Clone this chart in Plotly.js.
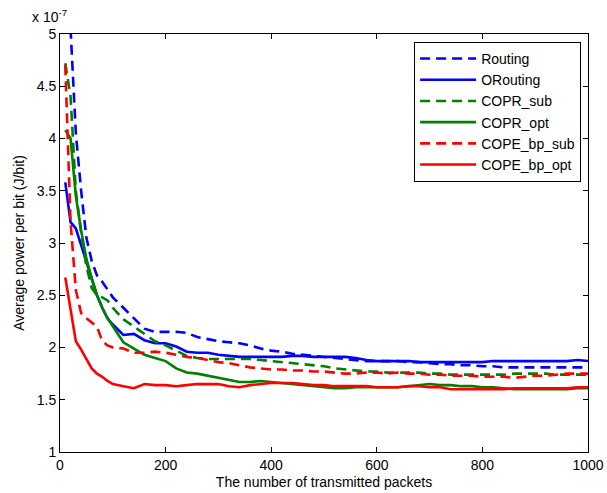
<!DOCTYPE html>
<html>
<head>
<meta charset="utf-8">
<script src="https://cdn.plot.ly/plotly-3.0.1.min.js"></script>
<style>html,body{margin:0;padding:0;background:#fff;}#chart{width:607px;height:493px;}</style>
</head>
<body>
<div id="chart"></div>
<script>
// Number of transmitted packets
const packets = [10,20,30,40,50,60,70,80,90,100,
  120,140,160,180,200,220,240,260,280,300,320,340,360,380,400,
  420,440,460,480,500,520,540,560,580,600,620,640,660,680,700,
  720,740,760,780,800,820,840,860,880,900,920,940,960,980,1000];

// Average power per bit (x 1e-7 J/bit)
const routing = [null,5.05,4.05,3.5,3.05,2.83,2.69,2.63,2.55,2.48,
  2.38,2.28,2.18,2.15,2.15,2.15,2.14,2.1,2.08,2.06,2.05,2.04,2.02,1.99,1.97,
  1.96,1.94,1.93,1.92,1.91,1.9,1.89,1.88,1.87,1.87,1.87,1.87,1.86,1.86,1.85,
  1.84,1.84,1.83,1.83,1.82,1.82,1.81,1.81,1.81,1.81,1.81,1.81,1.81,1.81,1.81];
const orouting = [3.58,3.2,3.14,2.98,2.8,2.64,2.5,2.38,2.28,2.22,
  2.12,2.13,2.07,2.04,2.04,2.01,1.96,1.95,1.95,1.93,1.92,1.91,1.91,1.91,1.91,
  1.91,1.92,1.92,1.91,1.91,1.91,1.91,1.9,1.88,1.87,1.87,1.87,1.87,1.86,1.86,
  1.86,1.86,1.86,1.86,1.86,1.87,1.87,1.87,1.87,1.87,1.87,1.87,1.87,1.88,1.87];
const coprSub = [4.72,4.4,3.5,3.1,2.78,2.57,2.5,2.48,2.45,2.38,
  2.27,2.2,2.13,2.06,2.02,1.97,1.92,1.9,1.89,1.89,1.89,1.89,1.89,1.88,1.87,
  1.86,1.85,1.84,1.83,1.82,1.8,1.79,1.78,1.77,1.77,1.76,1.76,1.76,1.76,1.75,
  1.75,1.74,1.74,1.74,1.74,1.74,1.74,1.75,1.75,1.75,1.75,1.74,1.74,1.74,1.74];
const coprOpt = [4.08,4.0,3.45,3.12,2.85,2.66,2.5,2.38,2.28,2.2,
  2.05,1.99,1.93,1.9,1.87,1.8,1.76,1.75,1.73,1.71,1.69,1.67,1.67,1.68,1.67,
  1.66,1.65,1.64,1.63,1.62,1.61,1.61,1.62,1.62,1.62,1.62,1.62,1.63,1.64,1.65,
  1.64,1.64,1.63,1.63,1.62,1.62,1.61,1.6,1.6,1.6,1.6,1.6,1.6,1.61,1.61];
const copeSub = [4.7,3.2,2.55,2.33,2.28,2.24,2.2,2.06,2.02,2.0,
  1.99,1.95,1.95,1.96,1.95,1.93,1.91,1.9,1.88,1.86,1.85,1.83,1.81,1.8,1.79,
  1.79,1.78,1.78,1.77,1.77,1.76,1.75,1.75,1.76,1.76,1.75,1.76,1.75,1.75,1.74,
  1.74,1.73,1.73,1.73,1.72,1.72,1.72,1.71,1.72,1.73,1.73,1.74,1.75,1.75,1.75];
const copeOpt = [2.67,2.35,2.06,1.98,1.89,1.8,1.75,1.72,1.68,1.65,
  1.63,1.61,1.65,1.64,1.64,1.63,1.64,1.65,1.65,1.65,1.63,1.62,1.64,1.65,1.66,
  1.66,1.66,1.65,1.64,1.64,1.63,1.63,1.63,1.63,1.62,1.62,1.62,1.63,1.63,1.62,
  1.62,1.6,1.6,1.6,1.6,1.6,1.6,1.61,1.61,1.61,1.61,1.61,1.61,1.62,1.62];

const seriesNames = ['Routing','ORouting','COPR_sub','COPR_opt','COPE_bp_sub','COPE_bp_opt'];
const seriesValues = [routing, orouting, coprSub, coprOpt, copeSub, copeOpt];
const seriesColors = ['#0000ff','#0000ff','#008000','#008000','#ff0000','#ff0000'];
const seriesDash = ['10px,6px','solid','10px,6px','solid','10px,6px','solid'];

const xTicks = [0,200,400,600,800,1000];
const yTicks = [1,1.5,2,2.5,3,3.5,4,4.5,5];

const traces = seriesNames.map((n,i)=>({
  x: packets, y: seriesValues[i], name: n, type:'scatter', mode:'lines',
  connectgaps:false,
  line:{color:seriesColors[i], width:2.6, dash:seriesDash[i]}
}));

const font = {family:'"Liberation Sans", Arial, sans-serif', size:14, color:'#000'};
const axisCommon = {
  showline:true, linecolor:'#000', linewidth:1, mirror:'ticks',
  ticks:'inside', ticklen:5, tickcolor:'#000', tickwidth:1,
  showgrid:false, zeroline:false, tickfont:font
};

const layout = {
  width:607, height:493,
  margin:{l:60, r:19, t:34, b:41, pad:0},
  paper_bgcolor:'#fff', plot_bgcolor:'#fff',
  font:font,
  showlegend:true,
  legend:{x:0.987, y:0.981, xanchor:'right', yanchor:'top',
    bgcolor:'#fff', bordercolor:'#000', borderwidth:1,
    font:font, itemwidth:56, tracegroupgap:0},
  xaxis:Object.assign({}, axisCommon, {
    range:[0,1000], tickvals:xTicks, ticktext:xTicks.map(String),
    title:{text:'The number of transmitted packets', font:font, standoff:5}
  }),
  yaxis:Object.assign({}, axisCommon, {
    range:[1,5], tickvals:yTicks, ticktext:yTicks.map(String),
    title:{text:'Average power per bit (J/bit)', font:font, standoff:8}
  }),
  annotations:[{
    xref:'paper', yref:'paper', x:-0.057, y:1.017, xanchor:'left', yanchor:'bottom',
    text:'x 10<sup>-7</sup>', showarrow:false, font:font
  }]
};

Plotly.newPlot('chart', traces, layout, {displayModeBar:false, staticPlot:true});
</script>
</body>
</html>
